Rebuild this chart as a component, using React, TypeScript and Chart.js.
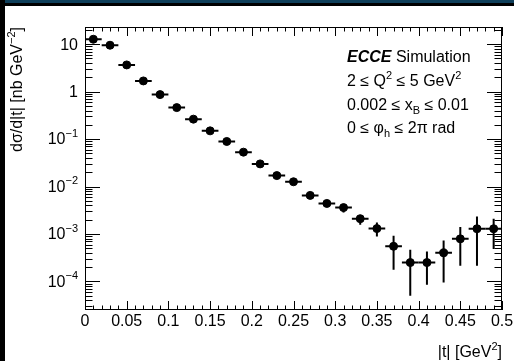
import React, { useEffect, useRef } from "react";
import { Chart, registerables } from "chart.js";
Chart.register(...registerables);

// ---- data ----
const tCenters = [0.01, 0.03, 0.05, 0.07, 0.09, 0.11, 0.13, 0.15, 0.17, 0.19, 0.21, 0.23, 0.25, 0.27, 0.29, 0.31, 0.33, 0.35, 0.37, 0.39, 0.41, 0.43, 0.45, 0.47, 0.49];
const dsigma = [12.7, 9.5, 3.65, 1.68, 0.865, 0.46, 0.263, 0.149, 0.089, 0.053, 0.030, 0.017, 0.0126, 0.0065, 0.0044, 0.0036, 0.0021, 0.0013, 5.5e-4, 2.5e-4, 2.5e-4, 4.0e-4, 7.9e-4, 1.29e-3, 1.29e-3];
const yLow = [12.4, 9.3, 3.57, 1.64, 0.845, 0.449, 0.256, 0.145, 0.0865, 0.0513, 0.0289, 0.0163, 0.012, 0.0061, 0.0041, 0.00284, 0.00156, 0.000885, 1.76e-4, 5.0e-5, 8.5e-5, 9.5e-5, 2.14e-4, 2.14e-4, 4.8e-4];
const yHigh = [13.0, 9.7, 3.73, 1.72, 0.885, 0.471, 0.27, 0.153, 0.0915, 0.0547, 0.0311, 0.0177, 0.0132, 0.0069, 0.0047, 0.00426, 0.00242, 0.00175, 9.2e-4, 4.65e-4, 4.28e-4, 7.3e-4, 1.4e-3, 2.33e-3, 2.09e-3];
const binHalfWidth = 0.01;

const xMajorTicks = [0, 0.05, 0.1, 0.15, 0.2, 0.25, 0.3, 0.35, 0.4, 0.45, 0.5];
const xTickLabels = ["0", "0.05", "0.1", "0.15", "0.2", "0.25", "0.3", "0.35", "0.4", "0.45", "0.5"];
const xMinorStep = 0.01;
const yDecades = [-4, -3, -2, -1, 0, 1];
const yTickBase = ["10", "10", "10", "10", "1", "10"];
const yTickExp = ["\u22124", "\u22123", "\u22122", "\u22121", "", ""];
const xRange = [0, 0.5];
const yRange = [2.5e-5, 23];

type Seg = { t: string; sup?: boolean; sub?: boolean; bold?: boolean; italic?: boolean };
const annotations: Seg[][] = [
  [{ t: "ECCE", bold: true, italic: true }, { t: " Simulation" }],
  [{ t: "2 \u2264 Q" }, { t: "2", sup: true }, { t: " \u2264 5 GeV" }, { t: "2", sup: true }],
  [{ t: "0.002 \u2264 x" }, { t: "B", sub: true }, { t: " \u2264 0.01" }],
  [{ t: "0 \u2264 \u03c6" }, { t: "h", sub: true }, { t: " \u2264 2\u03c0 rad" }],
];
const yTitle: Seg[] = [{ t: "d\u03c3/d|t| [nb GeV" }, { t: "\u22122", sup: true }, { t: "]" }];
const xTitle: Seg[] = [{ t: "|t| [GeV" }, { t: "2", sup: true }, { t: "]" }];

const FONT = '"Liberation Sans", Arial, Helvetica, sans-serif';

function segFont(s: Seg, size: number) {
  const sz = s.sup || s.sub ? Math.round(size * 0.7) : size;
  return `${s.italic ? "italic " : ""}${s.bold ? "bold " : ""}${sz}px ${FONT}`;
}
function richWidth(ctx: CanvasRenderingContext2D, segs: Seg[], size: number) {
  let w = 0;
  for (const s of segs) {
    ctx.font = segFont(s, size);
    w += ctx.measureText(s.t).width;
  }
  return w;
}
function drawRich(ctx: CanvasRenderingContext2D, segs: Seg[], x: number, y: number, size: number, align: "left" | "right") {
  const w = richWidth(ctx, segs, size);
  let cx = align === "left" ? x : x - w;
  ctx.textAlign = "left";
  ctx.textBaseline = "middle";
  for (const s of segs) {
    ctx.font = segFont(s, size);
    const dy = s.sup ? -size * 0.38 : s.sub ? size * 0.3 : 0;
    ctx.fillText(s.t, cx, y + dy);
    cx += ctx.measureText(s.t).width;
  }
}

const rootPlugin = {
  id: "rootStyle",
  beforeDatasetsDraw(chart: any) {
    const { ctx, scales } = chart;
    const xs = scales.x, ys = scales.y;
    ctx.save();
    ctx.strokeStyle = "#000";
    ctx.lineWidth = 2;
    for (let i = 0; i < tCenters.length; i++) {
      const px = xs.getPixelForValue(tCenters[i]);
      const py = ys.getPixelForValue(dsigma[i]);
      ctx.beginPath();
      ctx.moveTo(xs.getPixelForValue(tCenters[i] - binHalfWidth), py);
      ctx.lineTo(xs.getPixelForValue(tCenters[i] + binHalfWidth), py);
      ctx.moveTo(px, ys.getPixelForValue(yLow[i]));
      ctx.lineTo(px, ys.getPixelForValue(yHigh[i]));
      ctx.stroke();
    }
    ctx.restore();
  },
  afterDraw(chart: any) {
    const { ctx, chartArea, scales } = chart;
    const xs = scales.x, ys = scales.y;
    const { left, right, top, bottom } = chartArea;
    ctx.save();
    ctx.strokeStyle = "#000";
    ctx.lineWidth = 1;
    ctx.strokeRect(left + 0.5, top + 0.5, right - left - 1, bottom - top - 1);
    ctx.beginPath();
    // x ticks
    const nMinor = Math.round((xRange[1] - xRange[0]) / xMinorStep);
    for (let k = 0; k <= nMinor; k++) {
      const v = xRange[0] + k * xMinorStep;
      const px = Math.round(xs.getPixelForValue(v)) + 0.5;
      const major = k % 5 === 0;
      const len = major ? 9 : 4.5;
      ctx.moveTo(px, bottom);
      ctx.lineTo(px, bottom - len);
      ctx.moveTo(px, top);
      ctx.lineTo(px, top + len);
    }
    // y ticks
    for (let d = -5; d <= 1; d++) {
      for (let m = 1; m <= 9; m++) {
        const v = m * Math.pow(10, d);
        if (v < yRange[0] || v > yRange[1]) continue;
        const py = Math.round(ys.getPixelForValue(v)) + 0.5;
        const len = m === 1 ? 15 : 7.5;
        ctx.moveTo(left, py);
        ctx.lineTo(left + len, py);
        ctx.moveTo(right, py);
        ctx.lineTo(right - len, py);
      }
    }
    ctx.stroke();
    ctx.fillStyle = "#000";
    // x labels
    ctx.font = `16px ${FONT}`;
    ctx.textAlign = "center";
    ctx.textBaseline = "middle";
    xMajorTicks.forEach((v, i) => {
      ctx.fillText(xTickLabels[i], xs.getPixelForValue(v), bottom + 12);
    });
    // y labels
    yDecades.forEach((d, i) => {
      const py = ys.getPixelForValue(Math.pow(10, d));
      const segs: Seg[] = [{ t: yTickBase[i] }];
      if (yTickExp[i]) segs.push({ t: yTickExp[i], sup: true });
      drawRich(ctx, segs, left - 7, py + 1, 16, "right");
    });
    // axis titles
    drawRich(ctx, xTitle, right, 353, 16, "right");
    ctx.save();
    ctx.translate(18, top);
    ctx.rotate(-Math.PI / 2);
    drawRich(ctx, yTitle, 0, 0, 16, "right");
    ctx.restore();
    // annotations
    const ys0 = [58, 82, 106, 129];
    annotations.forEach((segs, i) => drawRich(ctx, segs, 347, ys0[i], 16, "left"));
    ctx.restore();
  },
};

export default function App() {
  const ref = useRef<HTMLCanvasElement>(null);
  useEffect(() => {
    if (!ref.current) return;
    const chart = new Chart(ref.current, {
      type: "scatter",
      data: {
        datasets: [
          {
            data: tCenters.map((t, i) => ({ x: t, y: dsigma[i] })),
            backgroundColor: "#000",
            borderColor: "#000",
            pointRadius: 4,
            pointHoverRadius: 4,
          },
        ],
      },
      options: {
        responsive: false,
        animation: false,
        maintainAspectRatio: false,
        layout: { padding: { left: 85, right: 12, top: 27, bottom: 51 } },
        plugins: { legend: { display: false }, tooltip: { enabled: false } },
        scales: {
          x: { type: "linear", min: xRange[0], max: xRange[1], display: false },
          y: { type: "logarithmic", min: yRange[0], max: yRange[1], display: false },
        },
      },
      plugins: [rootPlugin],
    });
    return () => chart.destroy();
  }, []);
  return (
    <div style={{ position: "fixed", left: 0, top: 0, width: 514, height: 361, background: "#fff", overflow: "hidden" }}>
      <canvas ref={ref} width={514} height={361} style={{ position: "absolute", left: 0, top: 0, width: 514, height: 361 }} />
      <div style={{ position: "absolute", left: 0, top: 0, width: 514, height: 3, background: "#0f3f5a" }} />
      <div style={{ position: "absolute", left: 0, top: 3, width: 514, height: 3, background: "#000" }} />
      <div style={{ position: "absolute", left: 0, top: 0, width: 5, height: 361, background: "#000" }} />
    </div>
  );
}
